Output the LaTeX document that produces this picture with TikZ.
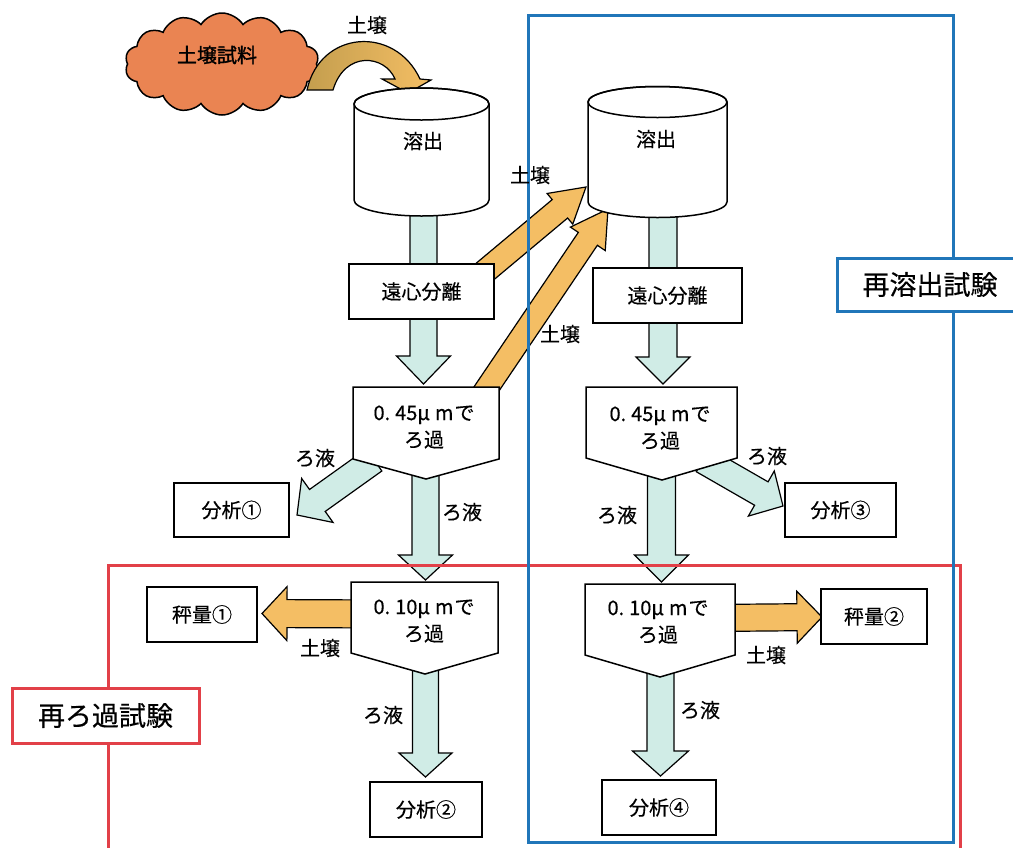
\documentclass[tikz,border=0pt]{standalone}
\usepackage{fontspec}
\setmainfont{Noto Sans CJK JP}[FakeBold=0.4]
\newfontfamily\cloudfont{Noto Sans CJK JP}[FakeBold=1.6]
\usetikzlibrary{shapes.symbols,calc}
\definecolor{cyanfill}{RGB}{208,236,230}
\definecolor{orfill}{RGB}{244,190,100}
\definecolor{ordark}{RGB}{196,158,78}
\definecolor{cloudfill}{RGB}{234,132,82}
\definecolor{frblue}{RGB}{32,118,185}
\definecolor{frred}{RGB}{226,64,72}
\newcommand\fatarrow[6]{%
  \draw[#6] let \p1=(#1), \p2=(#2),
      \n1={atan2(\y2-\y1,\x2-\x1)},
      \n2={veclen(\x2-\x1,\y2-\y1)} in
    [shift={(\p1)}, rotate=\n1]
    (0pt,{-#3pt}) -- ({\n2-#5pt},{-#3pt}) -- ({\n2-#5pt},{-#4pt})
    -- ({\n2*1pt},0pt) -- ({\n2-#5pt},{#4pt}) -- ({\n2-#5pt},{#3pt})
    -- (0pt,{#3pt}) -- cycle;}
\newcommand\mycyl[5]{%
  \draw[line width=1.5pt, fill=white] (#1-#2,#3) -- (#1-#2,#4)
    arc[start angle=180, end angle=360, x radius=#2pt, y radius=#5pt]
    -- (#1+#2,#3)
    arc[start angle=0, end angle=180, x radius=#2pt, y radius=#5pt] -- cycle;
  \draw[line width=1.5pt] (#1,#3) ellipse[x radius=#2pt, y radius=#5pt];}
\newcommand\mypent[6]{% x1 x2 ytop yside xpoint ypoint
  \draw[line width=1.5pt, fill=white] (#1,#3) -- (#2,#3) -- (#2,#4) -- (#5,#6) -- (#1,#4) -- cycle;}
\newcommand\filt[1]{0.\hspace{5pt}#1μ\hspace{5pt}m\hspace{1pt}で\\ろ過}
\begin{document}
\begin{tikzpicture}[x=1pt,y=-1pt,
  txt/.style={font={\fontsize{20}{27}\selectfont}, inner sep=0pt, align=center},
  box/.style={draw=black, fill=white, line width=1.5pt, inner sep=0pt,
              font={\fontsize{20}{24}\selectfont}},
  cyanarr/.style={fill=cyanfill, draw=black, line width=1.2pt},
  orarr/.style={fill=orfill, draw=black, line width=1.2pt},
  frame/.style={line width=3pt}]
\useasboundingbox (0,0) rectangle (1013,847);
\clip (0,0) rectangle (1013,847);
\fill[white] (0,0) rectangle (1013,847);

% cloud and curved arrow
\node[cloud, cloud puffs=14, cloud puff arc=115, aspect=1.9, draw=black, line width=1.5pt,
      fill=cloudfill, minimum width=194pt, minimum height=102pt, inner sep=0pt] (cloud) at (222,64) {};
\node[txt, font={\fontsize{20}{24}\cloudfont}] (cloudtxt) at (217,55) {土壌試料};
\draw[line width=1.2pt, left color=ordark, right color=orfill]
  (307,90) .. controls (320,30) and (395,25) .. (420,79) -- (431,80) -- (408,93) -- (382,79)
  -- (395,79) .. controls (385,55) and (345,50) .. (333,90) -- cycle;
\node[txt] (l0) at (367,25) {土壌};

% named ends of connectors
\coordinate (c1s) at (423.5,200); \coordinate (c1e) at (423.5,292);
\coordinate (c2s) at (423.5,312); \coordinate (c2e) at (423.5,384);
\coordinate (c3s) at (374,460);   \coordinate (c3e) at (297,515);
\coordinate (c4s) at (425.5,470); \coordinate (c4e) at (425.5,580);
\coordinate (c5s) at (663,202);   \coordinate (c5e) at (663,296);
\coordinate (c6s) at (663,318);   \coordinate (c6e) at (663,384);
\coordinate (c7s) at (703,460);   \coordinate (c7e) at (783,506);
\coordinate (c8s) at (661.5,470); \coordinate (c8e) at (661.5,582);
\coordinate (c9s) at (425.5,665); \coordinate (c9e) at (425.5,777);
\coordinate (c10s) at (660.5,668); \coordinate (c10e) at (660.5,776);
\coordinate (o1s) at (380,614);   \coordinate (o1e) at (262,613.5);
\coordinate (o2s) at (710,618);   \coordinate (o2e) at (822,617);
\coordinate (oAs) at (482,274);   \coordinate (oAe) at (586,187);
\coordinate (oBs) at (481,397);   \coordinate (oBe) at (608,209);

% connectors (fat arrows)
\fatarrow{c1s}{c1e}{13.5}{27}{25}{cyanarr}
\fatarrow{c2s}{c2e}{13.5}{27}{28}{cyanarr}
\fatarrow{c3s}{c3e}{13.5}{27}{25}{cyanarr}
\fatarrow{c4s}{c4e}{13.5}{27}{25}{cyanarr}
\fatarrow{c5s}{c5e}{14}{27}{25}{cyanarr}
\fatarrow{c6s}{c6e}{14}{27}{27}{cyanarr}
\fatarrow{c7s}{c7e}{13.5}{26}{25}{cyanarr}
\fatarrow{c8s}{c8e}{14}{27}{27}{cyanarr}
\fatarrow{c9s}{c9e}{13}{26.5}{24}{cyanarr}
\fatarrow{c10s}{c10e}{13.5}{28}{25}{cyanarr}
\fatarrow{o1s}{o1e}{14}{27}{25}{orarr}
\fatarrow{o2s}{o2e}{13.5}{26}{25}{orarr}
\fatarrow{oAs}{oAe}{12}{20}{34}{orarr}
\fatarrow{oBs}{oBe}{11.5}{21}{36}{orarr}

% frames
\draw[frame, draw=frred] (108,900) -- (108,565) -- (960,565) -- (960,900);
\draw[frame, draw=frblue] (528,15) rectangle (953,842);

% cylinders
\mycyl{421.5}{67.5}{104}{200}{16}
\node[txt] (cyl1) at (423,141) {溶出};
\mycyl{657.5}{69.5}{102}{202}{15.5}
\node[txt] (cyl2) at (656,139) {溶出};

% boxes
\node[box, minimum width=145pt, minimum height=55pt] (b1) at (421.5,291.5) {遠心分離};
\node[box, minimum width=149pt, minimum height=55pt] (b2) at (667.5,295.5) {遠心分離};
\node[box, minimum width=115pt, minimum height=54pt] (a1) at (231.5,510) {分析①};
\node[box, minimum width=111pt, minimum height=54pt] (a3) at (840.5,510) {分析③};
\node[box, minimum width=110pt, minimum height=55pt] (w1) at (202,614.5) {秤量①};
\node[box, minimum width=106pt, minimum height=55pt] (w2) at (874,616.5) {秤量②};
\node[box, minimum width=112pt, minimum height=55pt] (a2) at (426,809.5) {分析②};
\node[box, minimum width=114pt, minimum height=55pt] (a4) at (659,807.5) {分析④};

% filters
\mypent{353}{499}{387}{459}{426}{479}
\node[txt] (p1) at (424,427) {\filt{45}};
\mypent{586}{737}{387}{458}{662}{480}
\node[txt] (p2) at (660,428) {\filt{45}};
\mypent{351}{498}{582}{653}{425}{674}
\node[txt] (p3) at (424,621) {\filt{10}};
\mypent{585}{735}{584}{655}{660}{677}
\node[txt] (p4) at (658,622) {\filt{10}};

% connector labels
\node[txt] (lA) at (530,175) {土壌};
\node[txt] (lB) at (560,334) {土壌};
\node[txt] (l3) at (315,458) {ろ液};
\node[txt] (l4) at (462,512) {ろ液};
\node[txt] (l7) at (767,456) {ろ液};
\node[txt] (l8) at (617,515) {ろ液};
\node[txt] (lo1) at (320,648) {土壌};
\node[txt] (l9) at (383,715) {ろ液};
\node[txt] (lo2) at (766,655) {土壌};
\node[txt] (l10) at (700,710) {ろ液};

% frame labels
\node[draw=frred, fill=white, line width=3pt, minimum width=187pt, minimum height=55pt,
      inner sep=0pt, font={\fontsize{27}{30}\selectfont}] (fr1) at (105.5,715.5) {再ろ過試験};
\node[draw=frblue, fill=white, line width=3pt, minimum width=186pt, minimum height=53pt,
      inner sep=0pt, font={\fontsize{27}{30}\selectfont}] (fr2) at (930,284.5) {再溶出試験};
\end{tikzpicture}
\end{document}
